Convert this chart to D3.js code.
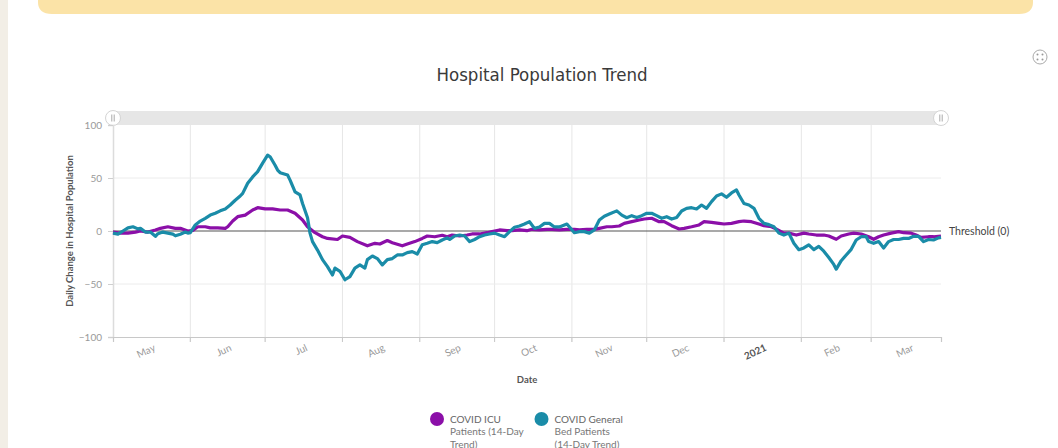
<!DOCTYPE html>
<html><head><meta charset="utf-8">
<script src="https://cdn.jsdelivr.net/npm/d3@7"></script>
<style>
html,body{margin:0;padding:0;background:#fff;}
svg{display:block;font-family:Lato,"Open Sans",sans-serif;}
</style></head>
<body>
<svg id="chart" width="1058" height="448"></svg>
<script>
// ---- data ----
const title = "Hospital Population Trend";
const yTicks = [100, 50, 0, -50, -100];
const monthTicks = ["2020-05-01","2020-06-01","2020-07-01","2020-08-01","2020-09-01","2020-10-01","2020-11-01","2020-12-01","2021-01-01","2021-02-01","2021-03-01"];
const monthLabels = ["May","Jun","Jul","Aug","Sep","Oct","Nov","Dec","2021","Feb","Mar"];
const xDomain = ["2020-05-01","2021-03-29"];
const seriesNames = ["COVID ICU Patients (14-Day Trend)", "COVID General Bed Patients (14-Day Trend)"];
const seriesColors = ["#8b0fa8", "#1a8ca8"];

const genDates = ["2020-05-01","2020-05-03","2020-05-05","2020-05-07","2020-05-09","2020-05-11","2020-05-12","2020-05-14","2020-05-16","2020-05-18","2020-05-19","2020-05-21","2020-05-23","2020-05-25","2020-05-26","2020-05-28","2020-05-30","2020-05-31",
"2020-06-01","2020-06-03","2020-06-05","2020-06-07","2020-06-09","2020-06-11","2020-06-13","2020-06-15","2020-06-17","2020-06-19","2020-06-21","2020-06-22","2020-06-24","2020-06-26","2020-06-28","2020-06-30",
"2020-07-02","2020-07-03","2020-07-05","2020-07-06","2020-07-07","2020-07-10","2020-07-11","2020-07-13","2020-07-15","2020-07-16","2020-07-18","2020-07-19","2020-07-20","2020-07-22","2020-07-24","2020-07-26","2020-07-28","2020-07-29","2020-07-31",
"2020-08-02","2020-08-04","2020-08-06","2020-08-08","2020-08-10","2020-08-11","2020-08-13","2020-08-15","2020-08-17","2020-08-19","2020-08-21","2020-08-23","2020-08-25","2020-08-27","2020-08-29","2020-08-31",
"2020-09-02","2020-09-04","2020-09-06","2020-09-08","2020-09-10","2020-09-12","2020-09-13","2020-09-15","2020-09-17","2020-09-19","2020-09-21","2020-09-23","2020-09-25","2020-09-27","2020-09-29",
"2020-10-01","2020-10-03","2020-10-05","2020-10-07","2020-10-09","2020-10-11","2020-10-13","2020-10-15","2020-10-17","2020-10-19","2020-10-21","2020-10-23","2020-10-25","2020-10-27","2020-10-30",
"2020-11-02","2020-11-04","2020-11-06","2020-11-08","2020-11-10","2020-11-12","2020-11-14","2020-11-16","2020-11-19","2020-11-21","2020-11-23","2020-11-25","2020-11-27","2020-11-29",
"2020-12-01","2020-12-03","2020-12-05","2020-12-07","2020-12-09","2020-12-11","2020-12-13","2020-12-15","2020-12-17","2020-12-19","2020-12-21","2020-12-23","2020-12-25","2020-12-27","2020-12-29","2020-12-31",
"2021-01-02","2021-01-04","2021-01-06","2021-01-07","2021-01-09","2021-01-11","2021-01-13","2021-01-15","2021-01-17","2021-01-19","2021-01-21","2021-01-23","2021-01-25","2021-01-27","2021-01-29","2021-01-31",
"2021-02-02","2021-02-04","2021-02-06","2021-02-08","2021-02-10","2021-02-12","2021-02-14","2021-02-15","2021-02-17","2021-02-19","2021-02-21","2021-02-23","2021-02-25","2021-02-27","2021-02-28",
"2021-03-02","2021-03-04","2021-03-06","2021-03-08","2021-03-10","2021-03-12","2021-03-14","2021-03-16","2021-03-18","2021-03-20","2021-03-22","2021-03-24","2021-03-26","2021-03-28","2021-03-29"];
const genValues = [-2,-3,0,3,4,2,2.5,-1,-1,-5,-2.5,-1,-2,-3,-4.5,-3,-1,-2,
-1.5,5.7,9.4,12,15,16.7,19,20.8,24.5,29,33,35.5,45,51,56,64,
71.5,70,62,57.5,55,52.8,48,37,34,26,12.5,-2,-10,-18,-27,-33.6,-41.5,-35,-38,
-46,-43,-35,-32,-35,-27,-23.6,-26,-32,-27,-26,-22.6,-22.6,-20.4,-19.5,-21.7,
-13,-11.6,-10,-11,-8.5,-6.5,-8,-4.7,-3.8,-4.7,-10,-8,-5.4,-3.8,-2.8,
-2,-3.8,-5.4,-0.6,3.5,4.7,6.6,8.8,2.5,3.8,7.2,7.2,3.8,3.8,6.6,
-1.6,-0.6,-0.6,-2,1,10.4,14,16,19,15,12.5,14.5,12.8,14.5,
16.7,16.7,14.5,12,13.5,11.3,12.8,18.9,21.4,22,20.8,24.5,21.4,27.7,33,35,
31.8,35.9,38.7,34,26,24.5,21.4,12,7.2,6,4,-2,-3.8,-2,-11.6,-17.6,
-16,-13,-17.6,-14.5,-19,-25,-31.5,-36,-28,-22.6,-17.3,-8.5,-5.4,-5.4,-10,
-11.6,-10,-16,-10,-8,-8,-7,-7,-5,-5,-10,-8,-8.5,-6.5,-6];

const icuDates = ["2020-05-01","2020-05-04","2020-05-07","2020-05-10","2020-05-12","2020-05-15","2020-05-18","2020-05-20","2020-05-23","2020-05-26","2020-05-28","2020-05-31",
"2020-06-02","2020-06-04","2020-06-07","2020-06-09","2020-06-12","2020-06-15","2020-06-16","2020-06-18","2020-06-20","2020-06-23","2020-06-26","2020-06-28",
"2020-07-01","2020-07-04","2020-07-07","2020-07-10","2020-07-13","2020-07-16","2020-07-18","2020-07-21","2020-07-24","2020-07-26","2020-07-30",
"2020-08-01","2020-08-04","2020-08-07","2020-08-11","2020-08-14","2020-08-16","2020-08-19","2020-08-21","2020-08-25","2020-08-27","2020-08-30",
"2020-09-02","2020-09-04","2020-09-07","2020-09-10","2020-09-12","2020-09-14","2020-09-17","2020-09-20","2020-09-22","2020-09-25","2020-09-28","2020-09-30",
"2020-10-03","2020-10-06","2020-10-08","2020-10-11","2020-10-14","2020-10-16","2020-10-19","2020-10-22","2020-10-24","2020-10-27","2020-10-30",
"2020-11-02","2020-11-04","2020-11-07","2020-11-10","2020-11-12","2020-11-15","2020-11-17","2020-11-20","2020-11-22","2020-11-25","2020-11-28","2020-11-30",
"2020-12-03","2020-12-06","2020-12-08","2020-12-11","2020-12-14","2020-12-16","2020-12-19","2020-12-22","2020-12-24","2020-12-27","2020-12-30",
"2021-01-01","2021-01-04","2021-01-07","2021-01-09","2021-01-12","2021-01-15","2021-01-17","2021-01-20","2021-01-22","2021-01-25","2021-01-27","2021-01-30",
"2021-02-02","2021-02-04","2021-02-07","2021-02-10","2021-02-12","2021-02-15","2021-02-17","2021-02-20","2021-02-22","2021-02-25","2021-02-28",
"2021-03-02","2021-03-04","2021-03-06","2021-03-09","2021-03-12","2021-03-14","2021-03-17","2021-03-19","2021-03-21","2021-03-24","2021-03-26","2021-03-29"];
const icuValues = [-1,-2,-2,-1,0,-1,1,2.5,4,2.5,2.5,0,
0.6,4,4,3,3,2.5,4,9.4,13.5,15,19.8,22,
20.8,20.8,19.8,19.8,16.7,10.4,4,-1.6,-5.4,-7,-8,
-4.7,-6,-10,-14,-11.6,-12.3,-9,-11,-14,-12.3,-10,
-7,-4.7,-5.4,-4,-5.5,-3.8,-4.7,-3.8,-2.8,-2.8,-1.6,-0.6,
1,0.3,0.3,1,0.3,1.6,1,1.6,1.6,1,1.6,
1.6,1,1.6,1.6,2.5,4,4,4.7,7.2,8.8,10.4,11.3,
12,8.8,8.8,5,1.9,2.5,4,5.7,8.8,8.2,7.2,
6.6,7.2,8.8,9.4,8.8,6.6,5,4,1.8,-2,-2,-3.8,
-2,-2.8,-3.8,-3.8,-4.7,-7.8,-4.7,-2.8,-2,-2.8,-5.4,
-7.8,-5.4,-3.8,-2,-0.6,-1.6,-2,-3.8,-6,-5.4,-5.4,-4.7];

// ---- drawing ----
const parse = d3.utcParse("%Y-%m-%d");
const svg = d3.select("#chart");
const L = 113, R = 941, T = 125, B = 337;

const x = d3.scaleUtc().domain(xDomain.map(parse)).range([L, R]);
const y = d3.scaleLinear().domain([-100, 100]).range([B, T]);

// page decorations
svg.append("rect").attr("x",0).attr("y",0).attr("width",8).attr("height",448).attr("fill","#f2eee6");
svg.append("path").attr("d","M38,0 H1033 V2 Q1033,14 1019,14 H52 Q38,14 38,2 Z").attr("fill","#fbe3a7");

// fullscreen icon
const fs = svg.append("g").attr("transform","translate(1040,57)");
fs.append("circle").attr("r",7).attr("fill","#fff").attr("stroke","#aaa").attr("stroke-width",1);
[[-2.5,-2.5],[2.5,-2.5],[-2.5,2.5],[2.5,2.5]].forEach(p=>fs.append("circle").attr("cx",p[0]).attr("cy",p[1]).attr("r",1).attr("fill","#999"));

// title
svg.append("text").attr("x",542).attr("y",81).attr("text-anchor","middle")
  .attr("font-family","'Liberation Sans Narrow','DejaVu Sans Condensed',sans-serif")
  .attr("font-size",18.5).attr("font-weight",500).attr("fill","#3a3a3a").text(title);

// scrollbar
svg.append("rect").attr("x",L).attr("y",111).attr("width",R-L).attr("height",14).attr("fill","#e6e6e6");
[L, R].forEach(cx=>{
  const h = svg.append("g").attr("transform",`translate(${cx},118)`);
  h.append("circle").attr("r",7.5).attr("fill","#fff").attr("stroke","#d4d4d4");
  h.append("line").attr("x1",-1.2).attr("x2",-1.2).attr("y1",-3.5).attr("y2",3.5).attr("stroke","#aaa");
  h.append("line").attr("x1",1.2).attr("x2",1.2).attr("y1",-3.5).attr("y2",3.5).attr("stroke","#aaa");
});

// gridlines
const monthDates = monthTicks.map(parse);
svg.append("g").selectAll("line").data(monthDates.slice(1)).join("line")
  .attr("x1",d=>x(d)).attr("x2",d=>x(d)).attr("y1",T).attr("y2",B+5)
  .attr("stroke","#e6e6e6").attr("stroke-width",1);
svg.append("g").selectAll("line").data(monthDates.slice(1)).join("line")
  .attr("x1",d=>x(d)).attr("x2",d=>x(d)).attr("y1",B).attr("y2",B+5)
  .attr("stroke","#c8c8c8").attr("stroke-width",1);
svg.append("g").selectAll("line").data([50,-50]).join("line")
  .attr("x1",L).attr("x2",R).attr("y1",d=>y(d)).attr("y2",d=>y(d))
  .attr("stroke","#ececec").attr("stroke-width",1);

// y axis
const yAxis = d3.axisLeft(y).tickValues(yTicks).tickSize(5).tickPadding(6);
const gy = svg.append("g").attr("transform",`translate(${L},0)`).call(yAxis);
gy.select(".domain").attr("stroke","#dcdcdc").attr("stroke-width",1.5);
gy.selectAll(".tick line").attr("stroke","#cfcfcf");
gy.selectAll(".tick text").attr("fill","#999").attr("font-size",10).attr("font-family","Lato,sans-serif");

// x axis line
const xAxis = d3.axisBottom(x).tickValues([monthDates[0]]).tickSize(5).tickFormat("");
const gx = svg.append("g").attr("transform",`translate(0,${B})`).call(xAxis);
gx.select(".domain").attr("stroke","#c8c8c8").attr("stroke-width",1.2);
gx.selectAll(".tick line").attr("stroke","#c8c8c8");

// month labels (centered in month)
svg.append("g").selectAll("text").data(monthDates).join("text")
  .attr("transform",d=>{
    const mid = (x(d)+x(d3.utcMonth.offset(d,1)))/2 + 3;
    return `translate(${mid},347) rotate(-25)`;
  })
  .attr("text-anchor","end").attr("dy","0.35em")
  .attr("font-size",10).attr("font-family","Lato,sans-serif")
  .attr("font-weight",(d,i)=>monthLabels[i]==="2021"?"bold":"normal")
  .attr("fill",(d,i)=>monthLabels[i]==="2021"?"#555":"#999")
  .text((d,i)=>monthLabels[i]);

// threshold line
svg.append("line").attr("x1",L).attr("x2",R).attr("y1",y(0)).attr("y2",y(0))
  .attr("stroke","#555").attr("stroke-width",1.2);
svg.append("text").attr("x",949).attr("y",y(0)).attr("dy","0.35em")
  .attr("font-size",10.5).attr("fill","#444").attr("font-family","Lato,sans-serif").text("Threshold (0)");

// lines
const line = d3.line().x(d=>x(d[0])).y(d=>y(d[1]));
const icu = icuDates.map((d,i)=>[parse(d), icuValues[i]]);
const gen = genDates.map((d,i)=>[parse(d), genValues[i]]);
svg.append("path").datum(icu).attr("d",line).attr("fill","none")
  .attr("stroke",seriesColors[0]).attr("stroke-width",3.2).attr("stroke-linejoin","round");
svg.append("path").datum(gen).attr("d",line).attr("fill","none")
  .attr("stroke",seriesColors[1]).attr("stroke-width",3.2).attr("stroke-linejoin","round");

// axis titles
svg.append("text").attr("transform",`translate(73,${(T+B)/2}) rotate(-90)`)
  .attr("text-anchor","middle").attr("font-size",9.5).attr("font-weight","bold")
  .attr("fill","#555").attr("font-family","Lato,sans-serif").text("Daily Change in Hospital Population");
svg.append("text").attr("x",(L+R)/2).attr("y",383).attr("text-anchor","middle")
  .attr("font-size",9.5).attr("font-weight","bold").attr("fill","#555")
  .attr("font-family","Lato,sans-serif").text("Date");

// legend
const legendLines = [["COVID ICU","Patients (14-Day","Trend)"],["COVID General","Bed Patients","(14-Day Trend)"]];
const legendX = [437, 541.5];
legendLines.forEach((lines,i)=>{
  const g = svg.append("g").attr("transform",`translate(${legendX[i]},419)`);
  g.append("circle").attr("r",7).attr("fill",seriesColors[i]);
  lines.forEach((t,j)=>{
    g.append("text").attr("x",13).attr("y",j*12.5).attr("dy","0.35em")
      .attr("font-size",10).attr("fill",j===0?"#666":"#777").attr("font-family","Lato,sans-serif").text(t);
  });
});
</script>
</body></html>
